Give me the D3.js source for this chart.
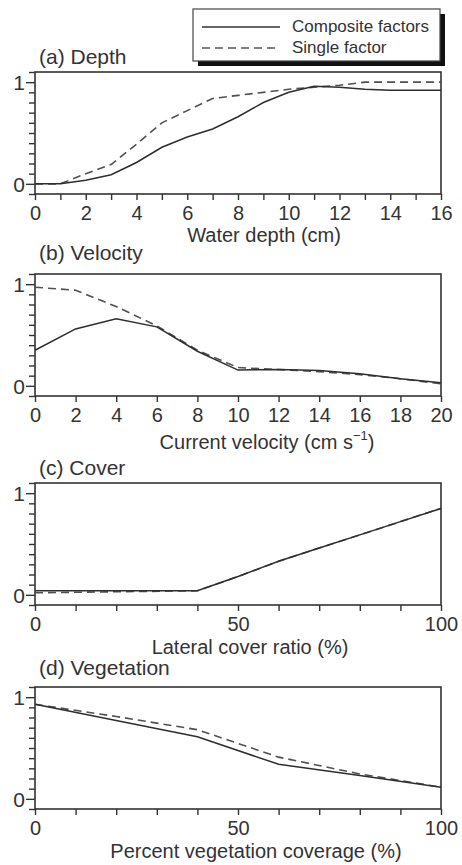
<!DOCTYPE html>
<html>
<head>
<meta charset="utf-8">
<script src="https://cdn.jsdelivr.net/npm/d3@7"></script>
<style>
  body { margin: 0; background: #fff; }
  svg text { font-family: "Liberation Sans", Arial, sans-serif; fill: #333; }
</style>
</head>
<body>
<div class="chart"></div>
<script>
// values
const depthX = [0, 1, 2, 3, 4, 5, 6, 7, 8, 9, 10, 11, 12, 13, 14, 15, 16];
const depthComposite = [0, 0, 0.035, 0.09, 0.21, 0.36, 0.46, 0.54, 0.66, 0.8, 0.9, 0.96, 0.95, 0.93, 0.92, 0.92, 0.92];
const depthSingle = [0, 0, 0.1, 0.19, 0.39, 0.6, 0.72, 0.84, 0.87, 0.9, 0.93, 0.95, 0.97, 1.0, 1.0, 1.0, 1.0];

const velocityX = [0, 2, 4, 6, 8, 10, 12, 14, 16, 18, 20];
const velocityComposite = [0.35, 0.56, 0.66, 0.58, 0.34, 0.155, 0.16, 0.15, 0.12, 0.07, 0.03];
const velocitySingle = [0.97, 0.94, 0.78, 0.59, 0.35, 0.18, 0.16, 0.14, 0.11, 0.07, 0.02];

const coverX = [0, 40, 50, 60, 70, 80, 90, 100];
const coverComposite = [0.04, 0.04, 0.18, 0.33, 0.46, 0.59, 0.72, 0.85];
const coverSingle = [0.02, 0.04, 0.18, 0.33, 0.46, 0.59, 0.72, 0.85];

const vegX = [0, 20, 40, 60, 80, 100];
const vegComposite = [0.93, 0.77, 0.61, 0.34, 0.23, 0.115];
const vegSingle = [0.93, 0.81, 0.68, 0.41, 0.245, 0.115];

// ticks
const depthTicks = [0, 1, 2, 3, 4, 5, 6, 7, 8, 9, 10, 11, 12, 13, 14, 15, 16];
const depthTickLabels = [0, 2, 4, 6, 8, 10, 12, 14, 16];
const velocityTicks = [0, 2, 4, 6, 8, 10, 12, 14, 16, 18, 20];
const percentTicks = [0, 10, 20, 30, 40, 50, 60, 70, 80, 90, 100];
const percentTickLabels = [0, 50, 100];
const yTicks = [-0.1, 0, 0.1, 0.2, 0.3, 0.4, 0.5, 0.6, 0.7, 0.8, 0.9, 1, 1.1];
const yTickLabels = [0, 1];

const seriesNames = ["Composite factors", "Single factor"];

const width = 462;
const height = 865;
const left = 35, right = 441, plotH = 122;
const ink = "#333";

const panels = [
  { title: "(a) Depth", top: 72, titleY: 64, label: ["Water depth (cm)"], labelX: 264, labelY: 242,
    domain: [0, 16], ticks: depthTicks, tickLabels: depthTickLabels, x: depthX, comp: depthComposite, single: depthSingle },
  { title: "(b) Velocity", top: 274, titleY: 260, label: ["Current velocity (cm s", "\u22121", ")"], labelX: 267, labelY: 449,
    domain: [0, 20], ticks: velocityTicks, tickLabels: velocityTicks, x: velocityX, comp: velocityComposite, single: velocitySingle },
  { title: "(c) Cover", top: 483, titleY: 475, label: ["Lateral cover ratio (%)"], labelX: 250, labelY: 654,
    domain: [0, 100], ticks: percentTicks, tickLabels: percentTickLabels, x: coverX, comp: coverComposite, single: coverSingle },
  { title: "(d) Vegetation", top: 687, titleY: 675, label: ["Percent vegetation coverage (%)"], labelX: 256, labelY: 858,
    domain: [0, 100], ticks: percentTicks, tickLabels: percentTickLabels, x: vegX, comp: vegComposite, single: vegSingle }
];

const svg = d3.select(".chart").append("svg")
  .attr("width", width)
  .attr("height", height);

panels.forEach(p => {
  const x = d3.scaleLinear().domain(p.domain).range([left, right]);
  const y = d3.scaleLinear().domain([-0.1, 1.1]).range([p.top + plotH, p.top]);
  const g = svg.append("g");

  // y axis: minor ticks every 0.1, longer ones at 0 and 1
  const isMajor = d => yTickLabels.some(v => Math.abs(v - d) < 1e-9);
  const yAxis = g.append("g")
    .attr("transform", `translate(${left},0)`)
    .call(d3.axisLeft(y).tickValues(yTicks).tickSize(6).tickSizeOuter(0)
      .tickFormat(d => isMajor(d) ? d3.format("d")(d) : ""));
  yAxis.select(".domain").remove();
  yAxis.selectAll(".tick line").attr("stroke", ink).attr("stroke-width", 1.4)
    .attr("x2", d => isMajor(d) ? -9 : -6);
  yAxis.selectAll(".tick text").attr("x", -10).attr("dy", "0.36em")
    .style("font-size", "21px").style("font-family", "Liberation Sans, Arial, sans-serif").attr("fill", "#333");

  // x axis
  const xAxis = g.append("g")
    .attr("transform", `translate(0,${p.top + plotH})`)
    .call(d3.axisBottom(x).tickValues(p.ticks).tickSize(6).tickSizeOuter(0)
      .tickFormat(d => p.tickLabels.includes(d) ? d : ""));
  xAxis.select(".domain").remove();
  xAxis.selectAll(".tick line").attr("stroke", ink).attr("stroke-width", 1.4);
  xAxis.selectAll(".tick text").attr("y", 12).attr("dy", "0.71em")
    .style("font-size", "20px").style("font-family", "Liberation Sans, Arial, sans-serif").attr("fill", "#333");

  // frame
  g.append("rect")
    .attr("x", left).attr("y", p.top)
    .attr("width", right - left).attr("height", plotH)
    .attr("fill", "none").attr("stroke", ink).attr("stroke-width", 1.6);

  // lines
  const line = d3.line().x(d => x(d[0])).y(d => y(d[1]));
  g.append("path")
    .attr("d", line(p.x.map((v, i) => [v, p.single[i]])))
    .attr("fill", "none").attr("stroke", "#505050").attr("stroke-width", 1.6)
    .attr("stroke-dasharray", "8,5");
  g.append("path")
    .attr("d", line(p.x.map((v, i) => [v, p.comp[i]])))
    .attr("fill", "none").attr("stroke", "#2e2e2e").attr("stroke-width", 1.5);

  // panel title
  g.append("text")
    .attr("x", 39).attr("y", p.titleY)
    .style("font-size", "21px")
    .text(p.title);

  // axis label
  const lab = g.append("text")
    .attr("x", p.labelX).attr("y", p.labelY)
    .attr("text-anchor", "middle")
    .style("font-size", "20px");
  lab.append("tspan").text(p.label[0]);
  if (p.label.length > 1) {
    lab.append("tspan").attr("dy", -9).style("font-size", "13px").text(p.label[1]);
    lab.append("tspan").attr("dy", 9).text(p.label[2]);
  }
});

// legend with drop shadow
const legend = svg.append("g");
legend.append("rect")
  .attr("x", 198).attr("y", 14).attr("width", 247).attr("height", 52)
  .attr("fill", "#111");
legend.append("rect")
  .attr("x", 193).attr("y", 9).attr("width", 247).attr("height", 52)
  .attr("fill", "#fff").attr("stroke", "#444").attr("stroke-width", 1.2);

seriesNames.forEach((name, i) => {
  const ly = 27 + i * 21;
  legend.append("line")
    .attr("x1", 202).attr("x2", 280).attr("y1", ly).attr("y2", ly)
    .attr("stroke", i === 0 ? "#333" : "#555").attr("stroke-width", 1.4)
    .attr("stroke-dasharray", i === 0 ? null : "8,5");
  legend.append("text")
    .attr("x", 292).attr("y", ly + 5)
    .style("font-size", "17px")
    .text(name);
});
</script>
</body>
</html>
